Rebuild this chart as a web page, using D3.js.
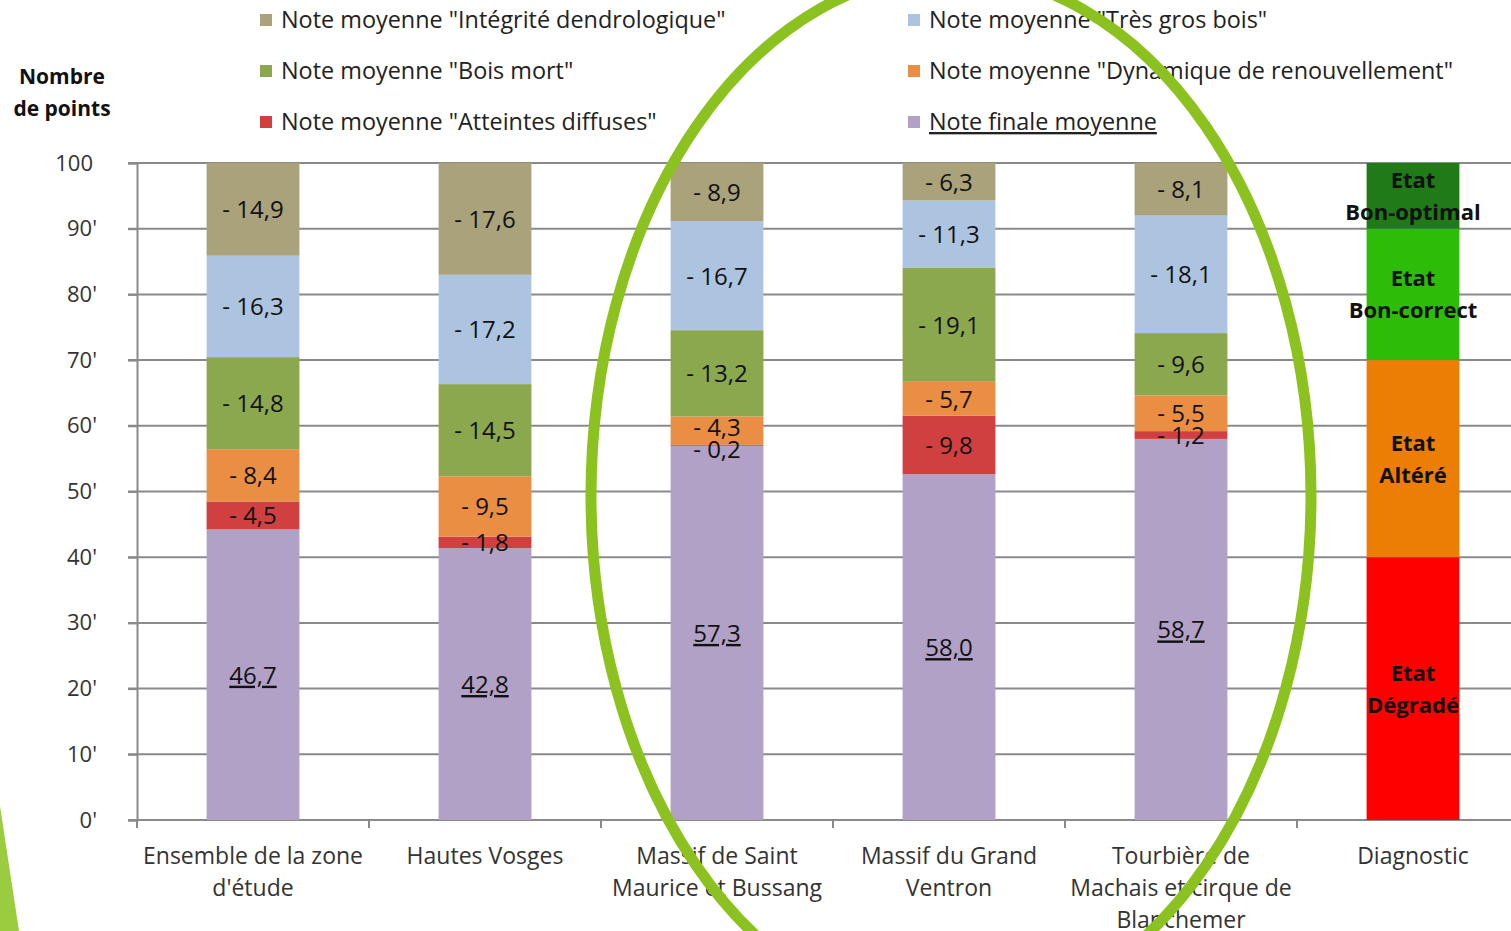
<!DOCTYPE html>
<html>
<head>
<meta charset="utf-8">
<script src="https://cdn.jsdelivr.net/npm/d3@7"></script>
<style>
  body { margin: 0; background: #fff; overflow: hidden; }
  text { font-family: "Open Sans", "Noto Sans", sans-serif; }
</style>
</head>
<body>
<div class="chart"></div>
<script>
// categories on the x axis (\n = line break)
var categories = [
  "Ensemble de la zone\nd'étude",
  "Hautes Vosges",
  "Massif de Saint\nMaurice et Bussang",
  "Massif du Grand\nVentron",
  "Tourbière de\nMachais et cirque de\nBlanchemer",
  "Diagnostic"
];

// series values (deductions and final mark), bottom to top
var noteFinale   = [46.7, 42.8, 57.3, 58.0, 58.7];
var atteintes    = [4.5, 1.8, 0.2, 9.8, 1.2];
var dynamique    = [8.4, 9.5, 4.3, 5.7, 5.5];
var boisMort     = [14.8, 14.5, 13.2, 19.1, 9.6];
var tresGrosBois = [16.3, 17.2, 16.7, 11.3, 18.1];
var integrite    = [14.9, 17.6, 8.9, 6.3, 8.1];

// diagnostic bar (state thresholds)
var etats = ["Etat\nDégradé", "Etat\nAltéré", "Etat\nBon-correct", "Etat\nBon-optimal"];
var etatValues = [40, 30, 20, 10];

var yTicks = [0, 10, 20, 30, 40, 50, 60, 70, 80, 90, 100];

var series = [
  {key: "finale", name: "Note finale moyenne", values: noteFinale, color: "#b2a1c7"},
  {key: "atteintes", name: 'Note moyenne "Atteintes diffuses"', values: atteintes, color: "#d04040"},
  {key: "dynamique", name: 'Note moyenne "Dynamique de renouvellement"', values: dynamique, color: "#ea8e44"},
  {key: "boisMort", name: 'Note moyenne "Bois mort"', values: boisMort, color: "#8ba84f"},
  {key: "tgb", name: 'Note moyenne "Très gros bois"', values: tresGrosBois, color: "#adc4e0"},
  {key: "integrite", name: 'Note moyenne "Intégrité dendrologique"', values: integrite, color: "#aaa27a"}
];
var etatColors = ["#ff0000", "#ec7e06", "#2dbc08", "#1f7a17"];

var W = 1511, H = 931;
var svg = d3.select('.chart').append('svg')
  .attr('width', W)
  .attr('height', H);

var x = d3.scaleBand()
  .domain(categories)
  .range([137, 137 + 6 * 232])
  .paddingInner(0.6)
  .paddingOuter(0.3);

var y = d3.scaleLinear().domain([0, 100]).range([820, 163]);

// gridlines
svg.append('g').selectAll('line').data(yTicks).enter()
  .append('line')
  .attr('x1', 128).attr('x2', W)
  .attr('y1', function(d){ return y(d); })
  .attr('y2', function(d){ return y(d); })
  .attr('stroke', '#8a8a8a')
  .attr('stroke-width', 2);

// y axis
var yAxis = svg.append('g')
  .attr('transform', 'translate(137,0)')
  .call(d3.axisLeft(y).tickValues(yTicks).tickSize(9)
    .tickFormat(function(d){ return d === 100 ? "100" : d + "'"; }));
yAxis.select('.domain').attr('stroke', '#8a8a8a').attr('stroke-width', 2);
yAxis.selectAll('.tick line').attr('stroke', '#8a8a8a').attr('stroke-width', 2);
yAxis.selectAll('.tick text')
  .attr('x', function(d){ return d === 100 ? -44 : -40; })
  .attr('font-size', 22)
  .attr('fill', '#333')
  .style('font-family', '"Open Sans", sans-serif');
svg.append('line')
  .attr('x1', 137).attr('x2', 137).attr('y1', 820).attr('y2', 828)
  .attr('stroke', '#8a8a8a').attr('stroke-width', 2);

// x axis
var bounds = d3.range(7).map(function(i){ return 137 + i * 232; });
svg.append('line')
  .attr('x1', 128).attr('x2', W).attr('y1', 820).attr('y2', 820)
  .attr('stroke', '#8a8a8a').attr('stroke-width', 2);
svg.append('g').selectAll('line').data(bounds).enter()
  .append('line')
  .attr('x1', function(d){ return d; }).attr('x2', function(d){ return d; })
  .attr('y1', 820).attr('y2', 828)
  .attr('stroke', '#8a8a8a').attr('stroke-width', 2);

var xLab = svg.append('g').selectAll('text').data(categories).enter()
  .append('text')
  .attr('text-anchor', 'middle')
  .attr('font-size', 23)
  .attr('fill', '#333')
  .attr('x', function(d){ return x(d) + x.bandwidth() / 2; })
  .attr('y', 864);
xLab.selectAll('tspan').data(function(d){ return d.split('\n'); }).enter()
  .append('tspan')
  .attr('x', function(){ var p = this.parentNode; return p.getAttribute('x'); })
  .attr('dy', function(d, i){ return i === 0 ? 0 : 32; })
  .text(function(d){ return d; });

// stacked bars, normalised to 100 like the original
var rows = categories.slice(0, 5).map(function(c, i) {
  var r = {cat: c};
  series.forEach(function(s){ r[s.key] = s.values[i]; });
  return r;
});
var stack = d3.stack()
  .keys(series.map(function(s){ return s.key; }))
  .offset(d3.stackOffsetExpand);
var layers = stack(rows);

var fmt = function(v){ return v.toFixed(1).replace('.', ','); };

svg.append('g').selectAll('g').data(layers).enter()
  .append('g')
  .attr('fill', function(d, i){ return series[i].color; })
  .selectAll('rect').data(function(d){ return d; }).enter()
  .append('rect')
  .attr('x', function(d){ return x(d.data.cat); })
  .attr('width', x.bandwidth())
  .attr('y', function(d){ return y(d[1] * 100); })
  .attr('height', function(d){ return y(d[0] * 100) - y(d[1] * 100); });

// label positions per bar, pushed apart when segments are very thin
var labels = [];
rows.forEach(function(r, i) {
  var col = layers.map(function(l) {
    return {cat: r.cat, key: l.key, v: r[l.key], cy: y((l[i][0] + l[i][1]) / 2 * 100)};
  });
  for (var k = 1; k < col.length; k++) {
    var gap = col[k - 1].cy - col[k].cy;
    if (gap < 22) {
      var push = (22 - gap) / 2;
      col[k - 1].cy += push;
      col[k].cy -= push;
    }
  }
  labels = labels.concat(col);
});

// value labels drawn after all rects so thin segments keep their label
svg.append('g').selectAll('text').data(labels).enter()
  .append('text')
  .attr('text-anchor', 'middle')
  .attr('font-size', 24)
  .attr('fill', '#111')
  .attr('x', function(d){ return x(d.cat) + x.bandwidth() / 2; })
  .attr('y', function(d){ return d.cy + 9; })
  .attr('text-decoration', function(d){ return d.key === 'finale' ? 'underline' : null; })
  .text(function(d){ return d.key === 'finale' ? fmt(d.v) : '- ' + fmt(d.v); });

// diagnostic bar
var cum = 0;
var etatData = etatValues.map(function(v, i){
  var o = {label: etats[i], y0: cum, y1: cum + v, color: etatColors[i]};
  cum += v;
  return o;
});
var diag = svg.append('g');
diag.selectAll('rect').data(etatData).enter()
  .append('rect')
  .attr('x', x("Diagnostic"))
  .attr('width', x.bandwidth())
  .attr('y', function(d){ return y(d.y1); })
  .attr('height', function(d){ return y(d.y0) - y(d.y1); })
  .attr('fill', function(d){ return d.color; });
var diagT = diag.selectAll('text').data(etatData).enter()
  .append('text')
  .attr('text-anchor', 'middle')
  .attr('font-size', 22)
  .attr('font-weight', 'bold')
  .attr('fill', '#111')
  .attr('y', function(d){ return y((d.y0 + d.y1) / 2) - 8; });
diagT.selectAll('tspan').data(function(d){ return d.label.split('\n'); }).enter()
  .append('tspan')
  .attr('x', x("Diagnostic") + x.bandwidth() / 2)
  .attr('dy', function(d, i){ return i === 0 ? 0 : 32; })
  .text(function(d){ return d; });

// y axis title
svg.append('text')
  .attr('text-anchor', 'middle')
  .attr('font-size', 21)
  .attr('font-weight', 'bold')
  .attr('fill', '#111')
  .selectAll('tspan').data(['Nombre', 'de points']).enter()
  .append('tspan')
  .attr('x', 62)
  .attr('y', function(d, i){ return 84 + i * 32; })
  .text(function(d){ return d; });

// legend
var legendOrder = ['integrite', 'boisMort', 'atteintes', 'tgb', 'dynamique', 'finale'];
var legend = svg.append('g').selectAll('g').data(legendOrder).enter()
  .append('g')
  .attr('transform', function(d, i){
    return 'translate(' + (i < 3 ? 260 : 908) + ',' + (20 + (i % 3) * 51) + ')';
  });
legend.append('rect')
  .attr('x', 0).attr('y', -6).attr('width', 12).attr('height', 12)
  .attr('fill', function(k){ return series.find(function(s){ return s.key === k; }).color; });
legend.append('text')
  .attr('x', 21).attr('y', 8)
  .attr('font-size', 23.4)
  .attr('fill', '#222')
  .attr('text-decoration', function(k){ return k === 'finale' ? 'underline' : null; })
  .text(function(k){ return series.find(function(s){ return s.key === k; }).name; });

// highlight ellipse and slide decoration
svg.append('ellipse')
  .attr('cx', 951).attr('cy', 496)
  .attr('rx', 360).attr('ry', 523)
  .attr('fill', 'none')
  .attr('stroke', '#8cc21f')
  .attr('stroke-width', 11);
svg.append('path')
  .attr('d', 'M0,806 L19,931 L0,931 Z')
  .attr('fill', '#9bcb3f');
</script>
</body>
</html>
